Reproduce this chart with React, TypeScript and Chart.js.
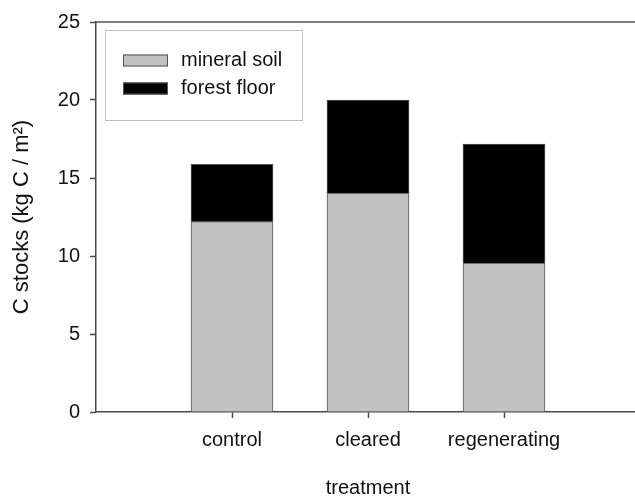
import React, { useEffect, useRef } from "react";
import { Chart, registerables } from "chart.js";

Chart.register(...registerables);

const categories = ["control", "cleared", "regenerating"];
const mineralSoil = [12.2, 14.04, 9.54];
const forestFloor = [3.68, 5.96, 7.63];
const yTicks = [0, 5, 10, 15, 20, 25];
const seriesNames = ["mineral soil", "forest floor"];

const FONT = "'Liberation Sans', Arial, Helvetica, sans-serif";

const framePlugin = {
  id: "frameAndLegend",
  afterDraw(chart: any) {
    const { ctx, chartArea } = chart;
    ctx.save();
    // top frame line
    ctx.strokeStyle = "#555";
    ctx.lineWidth = 1.5;
    ctx.beginPath();
    ctx.moveTo(chartArea.left, chartArea.top);
    ctx.lineTo(chartArea.right, chartArea.top);
    ctx.stroke();

    // legend box
    const bx = chartArea.left + 9;
    const by = chartArea.top + 8;
    const bw = 197;
    const bh = 90;
    ctx.fillStyle = "#fff";
    ctx.fillRect(bx, by, bw, bh);
    ctx.strokeStyle = "#bdbdbd";
    ctx.lineWidth = 1;
    ctx.strokeRect(bx + 0.5, by + 0.5, bw, bh);

    chart.data.datasets.forEach((ds: any, i: number) => {
      const cy = by + 30.5 + i * 28;
      ctx.fillStyle = ds.backgroundColor;
      ctx.fillRect(bx + 18, cy - 6, 45, 12);
      ctx.strokeStyle = "#555";
      ctx.lineWidth = 1;
      ctx.strokeRect(bx + 18.5, cy - 5.5, 44, 11);
      ctx.fillStyle = "#111";
      ctx.font = `20px ${FONT}`;
      ctx.textBaseline = "middle";
      ctx.textAlign = "left";
      ctx.fillText(ds.label, bx + 76, cy);
    });
    ctx.restore();
  },
};

export default function App() {
  const ref = useRef<HTMLCanvasElement | null>(null);

  useEffect(() => {
    if (!ref.current) return;
    const chart = new Chart(ref.current, {
      type: "bar",
      data: {
        datasets: [
          {
            label: seriesNames[0],
            data: categories.map((_, i) => ({ x: i + 1, y: mineralSoil[i] })),
            backgroundColor: "#c2c2c2",
            borderColor: "#555",
            borderWidth: 1,
            barThickness: 82,
          },
          {
            label: seriesNames[1],
            data: categories.map((_, i) => ({ x: i + 1, y: forestFloor[i] })),
            backgroundColor: "#000000",
            borderColor: "#555",
            borderWidth: 1,
            barThickness: 82,
          },
        ],
      },
      options: {
        responsive: false,
        animation: false,
        devicePixelRatio: 1,
        layout: { padding: { top: 18, right: 0, left: 0, bottom: 0 } },
        plugins: {
          legend: { display: false },
          tooltip: { enabled: false },
        },
        scales: {
          x: {
            type: "linear",
            min: 0,
            max: categories.length + 1,
            stacked: true,
            offset: false,
            afterBuildTicks: (scale: any) => {
              scale.ticks = categories.map((_, i) => ({ value: i + 1 }));
            },
            afterFit: (scale: any) => {
              scale.height = 86;
            },
            grid: {
              offset: false,
              drawOnChartArea: false,
              drawTicks: true,
              tickLength: 6,
              color: "#4a4a4a",
              tickWidth: 1.5,
            },
            border: { display: true, color: "#4a4a4a", width: 1.5 },
            ticks: {
              autoSkip: false,
              maxRotation: 0,
              padding: 10,
              color: "#111",
              font: { family: FONT, size: 20 },
              callback: (v: any) => categories[Number(v) - 1] ?? "",
            },
            title: {
              display: true,
              text: "treatment",
              color: "#111",
              font: { family: FONT, size: 20, lineHeight: 1 },
              padding: { top: 0, bottom: 0 },
            },
          },
          y: {
            min: 0,
            max: 25,
            stacked: true,
            afterBuildTicks: (scale: any) => {
              scale.ticks = yTicks.map((v) => ({ value: v }));
            },
            afterFit: (scale: any) => {
              scale.width = 96;
            },
            grid: {
              drawOnChartArea: false,
              drawTicks: true,
              tickLength: 6,
              color: "#4a4a4a",
              tickWidth: 1.5,
            },
            border: { display: true, color: "#4a4a4a", width: 1.5 },
            ticks: {
              padding: 10,
              color: "#111",
              font: { family: FONT, size: 20 },
            },
            title: {
              display: true,
              text: "C stocks (kg C / m²)",
              color: "#111",
              font: { family: FONT, size: 22, lineHeight: 1.2 },
              padding: { top: 9, bottom: 0 },
            },
          },
        },
      },
      plugins: [framePlugin],
    } as any);
    return () => chart.destroy();
  }, []);

  return (
    <div
      style={{
        position: "absolute",
        left: 0,
        top: 0,
        width: 635,
        height: 498,
        overflow: "hidden",
        background: "#fff",
      }}
    >
      <canvas ref={ref} width={640} height={498} style={{ display: "block" }} />
    </div>
  );
}
